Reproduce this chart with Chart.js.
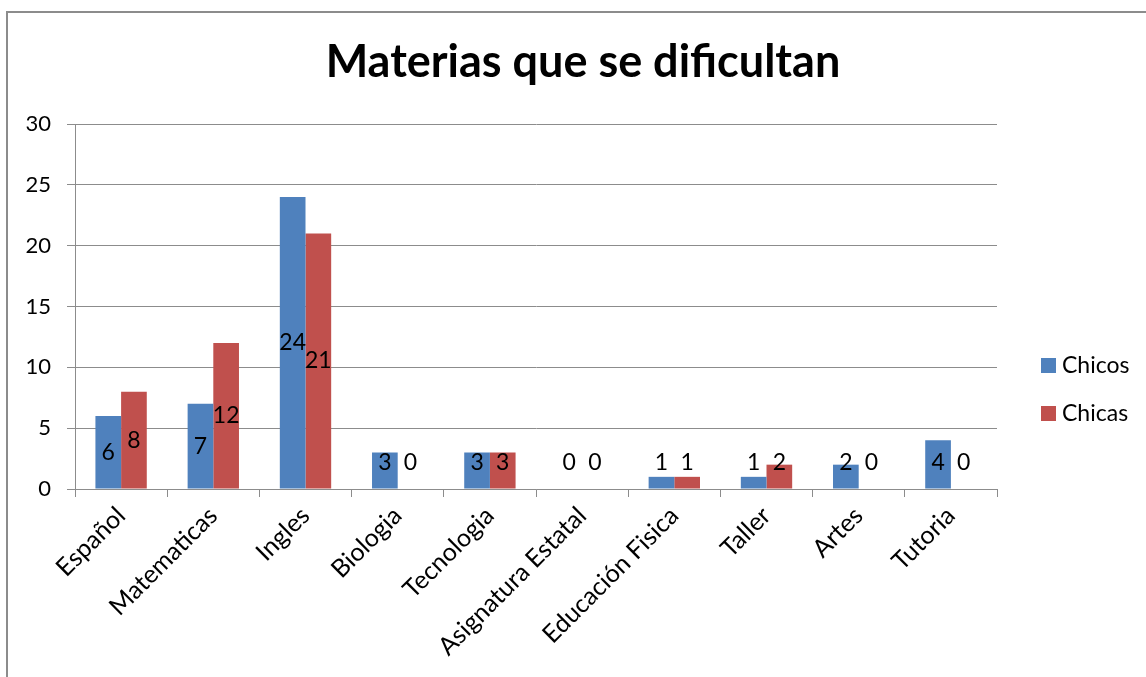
<!DOCTYPE html>
<html>
<head>
<meta charset="utf-8">
<script src="https://cdn.jsdelivr.net/npm/chart.js@4.4.1/dist/chart.umd.min.js"></script>
<style>
  body { margin: 0; background: #fff; }
  #wrap { position: relative; width: 1146px; height: 677px; overflow: hidden; }
  #frame { position: absolute; left: 6px; top: 11px; width: 1200px; height: 700px; border: 2px solid #8c8c8c; }
  canvas { position: absolute; left: 0; top: 0; }
</style>
</head>
<body>
<div id="wrap">
  <div id="frame"></div>
  <canvas id="chart" width="1146" height="677"></canvas>
</div>
<script>
// datos de la grafica
const categories = ['Español', 'Matematicas', 'Ingles', 'Biologia', 'Tecnologia',
  'Asignatura Estatal', 'Educación Fisica', 'Taller', 'Artes', 'Tutoria'];
const chicos = [6, 7, 24, 3, 3, 0, 1, 1, 2, 4];
const chicas = [8, 12, 21, 0, 3, 0, 1, 2, 0, 0];
const seriesNames = ['Chicos', 'Chicas'];
const yTicks = [0, 5, 10, 15, 20, 25, 30];

const FONT = 'Lato, "Liberation Sans", sans-serif';
const gridColor = '#8c8c8c';

// etiquetas de valor dentro de las barras
const valueLabels = {
  id: 'valueLabels',
  afterDatasetsDraw(chart) {
    const ctx = chart.ctx;
    ctx.save();
    ctx.font = '23px ' + FONT;
    ctx.fillStyle = '#000';
    ctx.textAlign = 'center';
    ctx.textBaseline = 'middle';
    chart.data.datasets.forEach((ds, i) => {
      chart.getDatasetMeta(i).data.forEach((bar, j) => {
        const y = Math.min((bar.y + bar.base) / 2, bar.base - 26);
        ctx.fillText(String(ds.data[j]), bar.x, y);
      });
    });
    ctx.restore();
  }
};

// titulo y leyenda
const titleLegend = {
  id: 'titleLegend',
  afterDraw(chart) {
    const ctx = chart.ctx;
    ctx.save();
    ctx.fillStyle = '#000';
    ctx.font = 'bold 45px ' + FONT;
    ctx.textAlign = 'center';
    ctx.textBaseline = 'middle';
    ctx.fillText('Materias que se dificultan', 583, 62);

    ctx.font = '23px ' + FONT;
    ctx.textAlign = 'left';
    chart.data.datasets.forEach((ds, i) => {
      const y = 365 + i * 48;
      ctx.fillStyle = ds.backgroundColor;
      ctx.fillRect(1041, y - 7, 15, 15);
      ctx.fillStyle = '#000';
      ctx.fillText(ds.label, 1062, y + 1);
    });
    ctx.restore();
  }
};

new Chart(document.getElementById('chart'), {
  type: 'bar',
  data: {
    labels: categories,
    datasets: [
      { label: seriesNames[0], data: chicos, backgroundColor: '#4F81BD' },
      { label: seriesNames[1], data: chicas, backgroundColor: '#C0504D' }
    ]
  },
  options: {
    responsive: false,
    animation: false,
    layout: { padding: { left: 0, right: 149, top: 124, bottom: 0 } },
    categoryPercentage: 0.557,
    barPercentage: 1,
    plugins: {
      legend: { display: false },
      title: { display: false },
      tooltip: { enabled: false }
    },
    scales: {
      x: {
        grid: { drawOnChartArea: false, color: gridColor, tickLength: 8, offset: true },
        border: { color: gridColor, width: 1 },
        ticks: { color: '#000', font: { family: FONT, size: 25 }, maxRotation: 45, minRotation: 45, padding: 4, autoSkip: false },
        afterFit(s) { s.height = 188; }
      },
      y: {
        min: 0,
        max: 30,
        afterBuildTicks(s) { s.ticks = yTicks.map(v => ({ value: v })); },
        grid: { color: gridColor, tickLength: 8 },
        border: { color: gridColor, width: 1 },
        ticks: { color: '#000', font: { family: FONT, size: 22 }, padding: 16 },
        afterFit(s) { s.width = 75; }
      }
    }
  },
  plugins: [valueLabels, titleLegend]
});
</script>
</body>
</html>
